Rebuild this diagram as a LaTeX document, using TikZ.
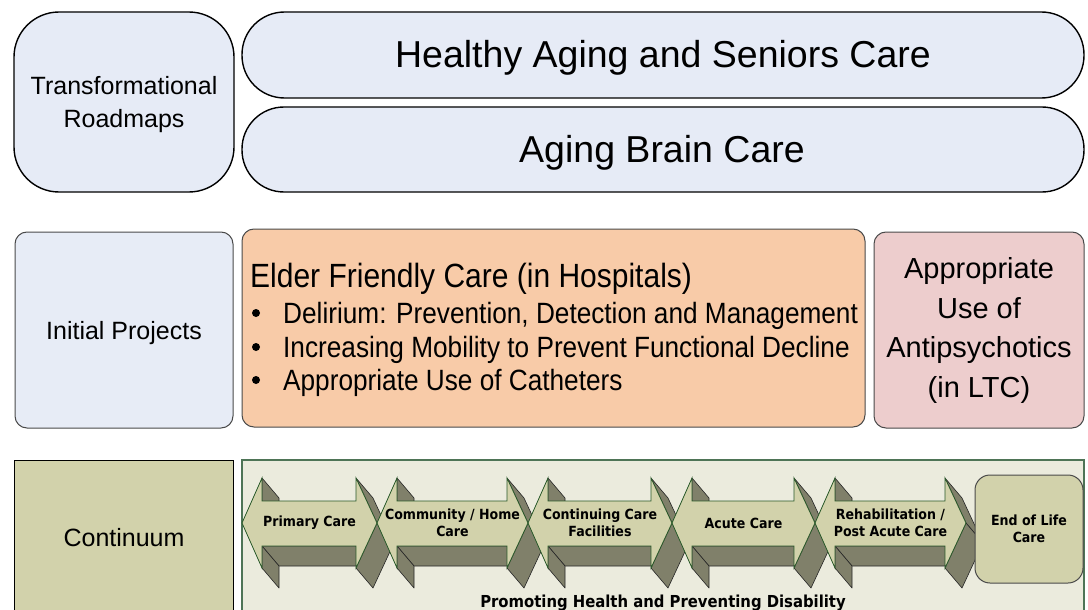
\documentclass[tikz,border=0pt]{standalone}
\usepackage{fontspec}
\setmainfont{Liberation Sans}
\newfontfamily\condsans{DejaVu Sans Condensed}
\usepackage{graphicx}

\definecolor{roadfill}{HTML}{E6EBF6}
\definecolor{projfill}{HTML}{E7ECF6}
\definecolor{elderfill}{HTML}{F8CBA8}
\definecolor{apfill}{HTML}{EDCDCD}
\definecolor{olivefill}{HTML}{D2D2AB}
\definecolor{panelfill}{HTML}{EBEBDD}
\definecolor{sidefill}{HTML}{80806A}
\definecolor{darkgreen}{HTML}{2A5A2A}
\definecolor{panelline}{HTML}{4E7456}
\definecolor{boxline}{HTML}{4A4A4A}

\newcommand\fsz[2]{\fontsize{#1}{#2}\selectfont}

% one double-headed 3D arrow of the continuum, from left tip #1 to right tip #2
\newcommand\carearrow[2]{%
  \filldraw[sideface] (#1+20,478) -- (#1+37,498) -- (#1+37,521) -- (#1+20,501) -- cycle;
  \filldraw[sideface] (#1+20,546) -- (#2-21,546) -- (#2-4,566) -- (#1+37,566) -- cycle;
  \filldraw[sideface] (#1+20,546) -- (#1+37,566) -- (#1+37,588) -- (#1+20,568) -- cycle;
  \filldraw[sideface] (#2-21,478) -- (#2,523) -- (#2+17,543) -- (#2-4,498) -- cycle;
  \filldraw[sideface] (#2,523) -- (#2-21,568) -- (#2-4,588) -- (#2+17,543) -- cycle;
  \filldraw[frontface] (#1,523) -- (#1+20,478) -- (#1+20,501) -- (#2-21,501)
    -- (#2-21,478) -- (#2,523) -- (#2-21,568) -- (#2-21,546) -- (#1+20,546)
    -- (#1+20,568) -- cycle;
}

\begin{document}
\begin{tikzpicture}[x=1pt,y=-1pt,
  topbox/.style={draw=black, line width=1.4pt, fill=roadfill, inner sep=0pt},
  projbox/.style={draw=boxline, line width=1pt, rounded corners=12pt, inner sep=0pt},
  sideface/.style={fill=sidefill, draw=black!85, line width=0.6pt, line join=round},
  frontface/.style={fill=olivefill, draw=darkgreen, line width=0.8pt, line join=miter},
  steplabel/.style={font=\condsans\bfseries\fsz{14}{17}, align=center, inner sep=0pt},
  maintext/.style={inner sep=0pt},
  bulletdot/.style={circle, fill=black, inner sep=0pt, minimum size=8pt}
]
\useasboundingbox (0,0) rectangle (1088,610);
\fill[white] (0,0) rectangle (1088,610);

% ---- Transformational roadmaps row
\node[topbox, rounded corners=45pt, minimum width=220pt, minimum height=180pt] (roadmaps) at (124,102) {};
\node[topbox, rounded corners=42.5pt, minimum width=842pt, minimum height=86pt] (healthy) at (663,55) {};
\node[topbox, rounded corners=42pt, minimum width=842pt, minimum height=85pt] (brain) at (663,149.5) {};
\node[maintext, font=\fsz{25}{33}, align=center] (roadmapstxt) at (124,104.5) {Transformational\\Roadmaps};
\node[maintext, anchor=base, font=\fsz{37.5}{40}] (healthytxt) at (663,68) {Healthy Aging and Seniors Care};
\node[maintext, anchor=base, font=\fsz{37.5}{40}] (braintxt) at (662,162) {Aging Brain Care};

% ---- Initial projects row
\node[projbox, fill=projfill, minimum width=218pt, minimum height=196pt] (initial) at (124,330) {};
\node[projbox, fill=elderfill, minimum width=623pt, minimum height=198pt] (elder) at (553.5,328) {};
\node[projbox, fill=apfill, minimum width=210pt, minimum height=196pt] (antipsy) at (979,330) {};
\node[maintext, anchor=base, font=\fsz{25}{30}] (initialtxt) at (124,339) {Initial Projects};
\node[maintext, anchor=base west, font=\fsz{30}{32}] (eldertitle) at (250,287) {\scalebox{1}[1.12]{Elder Friendly Care (in Hospitals)}};
\node[maintext, anchor=base west, font=\fsz{26.2}{28}] (elderA) at (283,323) {\scalebox{1}[1.12]{Delirium: Prevention, Detection and Management}};
\node[maintext, anchor=base west, font=\fsz{26.2}{28}] (elderB) at (283,357) {\scalebox{1}[1.12]{Increasing Mobility to Prevent Functional Decline}};
\node[maintext, anchor=base west, font=\fsz{26.2}{28}] (elderC) at (283,390) {\scalebox{1}[1.12]{Appropriate Use of Catheters}};
\node[bulletdot] (dotA) at (256,313) {};
\node[bulletdot] (dotB) at (256,347) {};
\node[bulletdot] (dotC) at (256,380) {};
\node[maintext, font=\fsz{29}{39.5}, align=center] (antipsytxt) at (979,330.5) {Appropriate\\Use of\\Antipsychotics\\(in LTC)};

% ---- Continuum row
\draw[draw=black, line width=1pt, fill=olivefill] (14,460) rectangle (233,630);
\node[maintext, anchor=base, font=\fsz{25}{30}] (continuumtxt) at (124,546) {Continuum};
\draw[draw=panelline, line width=1.2pt, fill=panelfill] (242,460) rectangle (1084,630);

\carearrow{242}{377}
\carearrow{377}{528}
\carearrow{528}{672}
\carearrow{672}{815}
\carearrow{815}{966}

\node[draw=boxline, line width=1pt, fill=olivefill, rounded corners=15pt,
      minimum width=108pt, minimum height=108pt] (endlife) at (1029,529) {};

\node[steplabel] (primary) at (309.5,523) {Primary Care};
\node[steplabel] (community) at (452.5,523) {Community / Home\\Care};
\node[steplabel] (continuing) at (600,523) {Continuing Care\\Facilities};
\node[steplabel] (acute) at (743.5,523) {Acute Care};
\node[steplabel] (rehab) at (890.5,523) {Rehabilitation /\\Post Acute Care};
\node[steplabel] (endlifetxt) at (1029,529) {End of Life\\Care};

\node[font=\condsans\bfseries\fsz{16.5}{18}, inner sep=0pt] (promoting) at (663,603) {Promoting Health and Preventing Disability};
\end{tikzpicture}
\end{document}
